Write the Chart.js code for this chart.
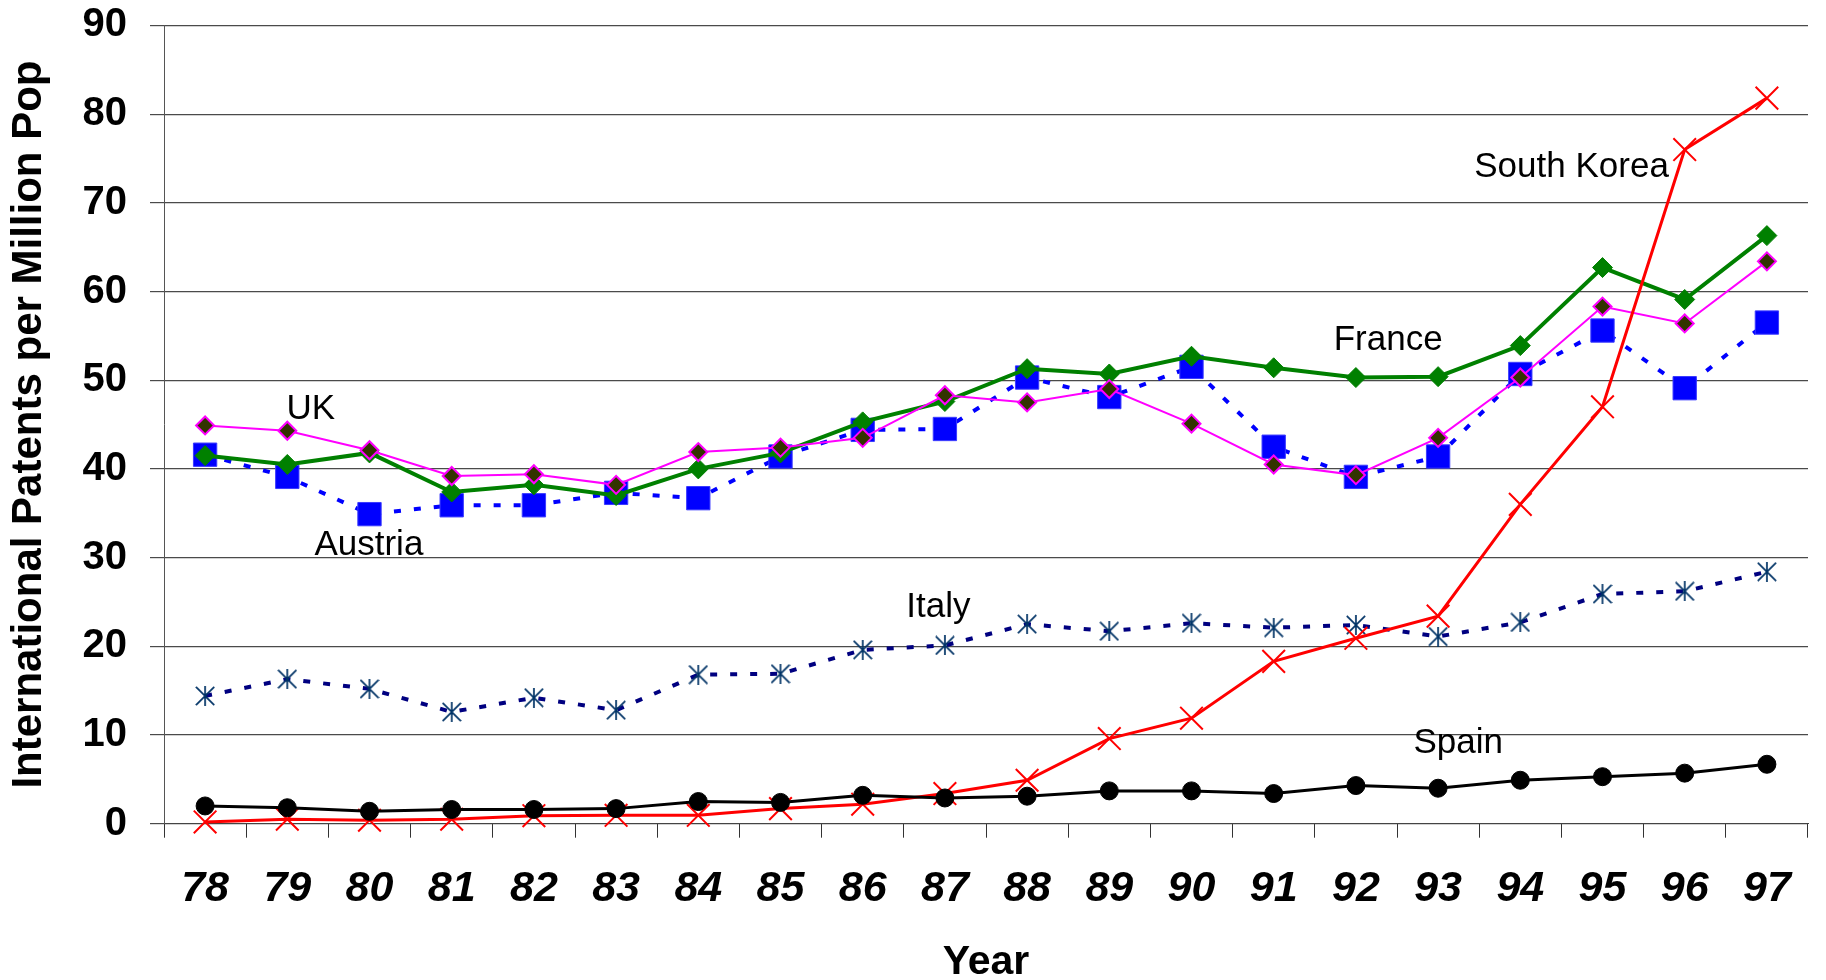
<!DOCTYPE html>
<html>
<head>
<meta charset="utf-8">
<title>International Patents per Million Population, 1978-1997</title>
<script src="https://cdn.jsdelivr.net/npm/chart.js@4.4.1/dist/chart.umd.min.js"></script>
<style>
  html, body { margin: 0; padding: 0; background: #ffffff; overflow: hidden; }
  #wrap { width: 1826px; height: 980px; }
</style>
</head>
<body>
<div id="wrap"><canvas id="chart" width="1826" height="980"></canvas></div>
<script>
// Years (x categories)
const years = ['78','79','80','81','82','83','84','85','86','87','88','89','90','91','92','93','94','95','96','97'];

// International patents per million population
const uk         = [44.9, 44.3, 42.1, 39.2, 39.4, 38.2, 41.9, 42.4, 43.5, 48.3, 47.5, 49.0, 45.1, 40.5, 39.3, 43.5, 50.3, 58.3, 56.4, 63.4];
const france     = [41.5, 40.5, 41.8, 37.4, 38.2, 37.0, 40.0, 41.8, 45.3, 47.6, 51.3, 50.7, 52.7, 51.4, 50.3, 50.4, 53.9, 62.7, 59.1, 66.3];
const austria    = [41.6, 39.1, 34.9, 35.9, 35.9, 37.3, 36.7, 41.4, 44.4, 44.5, 50.3, 48.1, 51.5, 42.5, 39.1, 41.4, 50.7, 55.6, 49.1, 56.5];
const italy      = [14.4, 16.3, 15.2, 12.6, 14.2, 12.8, 16.8, 16.9, 19.6, 20.1, 22.5, 21.7, 22.6, 22.1, 22.4, 21.1, 22.7, 25.9, 26.2, 28.4];
const spain      = [2.0, 1.8, 1.4, 1.6, 1.6, 1.7, 2.5, 2.4, 3.2, 2.9, 3.1, 3.7, 3.7, 3.4, 4.3, 4.0, 4.9, 5.3, 5.7, 6.7];
const southKorea = [0.2, 0.5, 0.4, 0.5, 0.9, 0.95, 0.95, 1.7, 2.2, 3.4, 4.9, 9.6, 11.9, 18.3, 20.9, 23.4, 36.0, 47.0, 76.0, 81.8];

// Y axis tick values
const yTickValues = [0, 10, 20, 30, 40, 50, 60, 70, 80, 90];

// Country names written beside their lines: [category index, value at text baseline]
const countryNames = ['UK', 'Austria', 'Italy', 'France', 'South Korea', 'Spain'];
const nameAnchors  = [[0.99, 45.6], [1.33, 30.3], [8.53, 23.3], [13.73, 53.4], [15.44, 72.9], [14.70, 8.0]];

// Wanted plot rectangle on the 1826x980 canvas
const PLOT = { left: 164, top: 25.4, right: 1818, bottom: 823.7 };
let xAxisHeight = 980 - PLOT.bottom;

const FONT = '"Liberation Sans", Arial, Helvetica, sans-serif';

// Asterisk marker (X with a vertical stroke) for the Italy series
function asteriskMarker(size, color, lw) {
  const c = document.createElement('canvas');
  c.width = size; c.height = size;
  const g = c.getContext('2d');
  g.strokeStyle = color;
  g.lineWidth = lw;
  const m = lw / 2;
  g.beginPath();
  g.moveTo(m, m); g.lineTo(size - m, size - m);
  g.moveTo(size - m, m); g.lineTo(m, size - m);
  g.moveTo(size / 2, 0); g.lineTo(size / 2, size);
  g.stroke();
  return c;
}

// Writes the country names next to their series
const countryNamePlugin = {
  id: 'countryNames',
  afterDatasetsDraw(chart) {
    const {ctx, scales: {x, y}} = chart;
    const x0 = x.getPixelForValue(0);
    const step = x.getPixelForValue(1) - x0;
    ctx.save();
    ctx.font = '35px ' + FONT;
    ctx.fillStyle = '#000000';
    ctx.textAlign = 'left';
    ctx.textBaseline = 'alphabetic';
    countryNames.forEach((name, i) => {
      const [idx, val] = nameAnchors[i];
      ctx.fillText(name, x0 + idx * step, y.getPixelForValue(val));
    });
    ctx.restore();
  }
};

// Keeps the plot area fixed: no extra room reserved for overhanging tick labels
function noLabelPadding(scale) {
  scale.paddingTop = 0;
  scale.paddingBottom = 0;
  scale.paddingLeft = 0;
  scale.paddingRight = 0;
}

const common = { tension: 0, fill: false, clip: false };

const chart = new Chart(document.getElementById('chart'), {
  type: 'line',
  data: {
    labels: years,
    datasets: [
      { ...common, label: 'Spain', data: spain,
        borderColor: '#000000', borderWidth: 3,
        pointStyle: 'circle', pointRadius: 9, pointHoverRadius: 9,
        pointBackgroundColor: '#000000', pointBorderColor: '#000000', pointBorderWidth: 1 },
      { ...common, label: 'South Korea', data: southKorea,
        borderColor: '#ff0000', borderWidth: 3,
        pointStyle: 'crossRot', pointRadius: 16, pointHoverRadius: 16,
        pointBackgroundColor: '#ff0000', pointBorderColor: '#ff0000', pointBorderWidth: 2 },
      { ...common, label: 'UK', data: uk,
        borderColor: '#ff00ff', borderWidth: 2,
        pointStyle: 'rectRot', pointRadius: 9, pointHoverRadius: 9,
        pointBackgroundColor: '#333300', pointBorderColor: '#ff00ff', pointBorderWidth: 2 },
      { ...common, label: 'France', data: france,
        borderColor: '#008000', borderWidth: 4,
        pointStyle: 'rectRot', pointRadius: 10, pointHoverRadius: 10,
        pointBackgroundColor: '#008000', pointBorderColor: '#008000', pointBorderWidth: 1 },
      { ...common, label: 'Austria', data: austria,
        borderColor: '#0000ff', borderWidth: 4, borderDash: [7, 13],
        pointStyle: 'rect', pointRadius: 16.5, pointHoverRadius: 16.5,
        pointBackgroundColor: '#0000ff', pointBorderColor: '#3a3aff', pointBorderWidth: 1 },
      { ...common, label: 'Italy', data: italy,
        borderColor: '#000080', borderWidth: 4, borderDash: [7, 13],
        pointStyle: asteriskMarker(20, '#003366', 1.7), pointRadius: 10, pointHoverRadius: 10,
        pointBackgroundColor: '#003366', pointBorderColor: '#003366' }
    ]
  },
  options: {
    responsive: false,
    animation: false,
    events: [],
    layout: { padding: { left: 0, right: 1826 - PLOT.right, top: PLOT.top, bottom: 0 } },
    plugins: { legend: { display: false }, tooltip: { enabled: false } },
    scales: {
      x: {
        type: 'category',
        offset: true,
        afterFit(scale) { scale.height = xAxisHeight; noLabelPadding(scale); },
        grid: { display: true, drawOnChartArea: false, drawTicks: true, tickLength: 14,
                offset: true, color: '#333333', lineWidth: 1 },
        border: { display: true, color: '#444444', width: 1 },
        ticks: { color: '#000000', padding: 3, maxRotation: 0, autoSkip: false,
                 font: { family: FONT, size: 43, weight: 'bold', style: 'italic', lineHeight: 2.25 } },
        title: { display: true, text: 'Year', color: '#000000', padding: { top: 0, bottom: -3 },
                 font: { family: FONT, size: 41, weight: 'bold', lineHeight: 1 } }
      },
      y: {
        type: 'linear',
        min: 0, max: 90,
        afterFit(scale) { scale.width = PLOT.left; noLabelPadding(scale); },
        afterBuildTicks(scale) { scale.ticks = yTickValues.map(v => ({ value: v })); },
        grid: { display: true, drawOnChartArea: true, drawTicks: true, tickLength: 14,
                color: '#4a4a4a', lineWidth: 1.2 },
        border: { display: true, color: '#555555', width: 1 },
        ticks: { color: '#000000', padding: 23,
                 font: { family: FONT, size: 40, weight: 'bold', lineHeight: 1 } },
        title: { display: true, text: 'International Patents per Million Pop', color: '#000000',
                 padding: { top: 8.7, bottom: 0 },
                 font: { family: FONT, size: 42, weight: 'bold', lineHeight: 1 } }
      }
    }
  },
  plugins: [countryNamePlugin]
});

// Settle the plot rectangle exactly where it belongs
for (let pass = 0; pass < 3; pass++) {
  const area = chart.chartArea;
  const pad = chart.options.layout.padding;
  const dRight = area.right - PLOT.right;
  const dTop = PLOT.top - area.top;
  const dBottom = area.bottom - PLOT.bottom;
  if (Math.abs(dRight) < 0.25 && Math.abs(dTop) < 0.25 && Math.abs(dBottom) < 0.25) break;
  pad.right += dRight;
  pad.top += dTop;
  xAxisHeight += dBottom;
  chart.update();
}
</script>
</body>
</html>
